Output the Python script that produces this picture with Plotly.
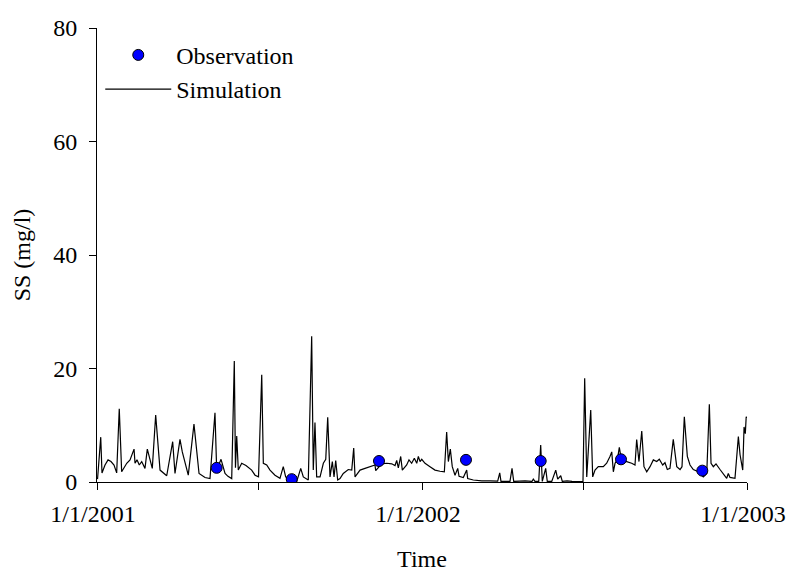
import pandas as pd
import plotly.graph_objects as go

# Day offsets from 1/1/2001 and simulated SS (mg/l)
sim_day = [0.6, 4.2, 5.6, 9.0, 12.4, 15.7, 19.1, 22.1, 25.0, 27.7, 33.4, 37.1, 41.6, 42.7,
           44.9, 47.5, 50.2, 53.9, 56.5, 59.5, 62.1, 65.9, 70.8, 78.3, 85.0, 87.6, 93.2,
           95.8, 98.0, 102.5, 108.9, 114.6, 121.3, 126.9, 132.5, 134.4, 139.3, 143.8, 147.1,
           151.3, 154.2, 155.5, 156.9, 158.7, 162.5, 167.3, 173.7, 177.5, 181.4, 185.0,
           186.8, 190.6, 194.3, 199.9, 205.5, 209.2, 211.9, 218.7, 224.3, 228.8, 231.7,
           237.3, 241.1, 242.9, 244.8, 246.7, 250.5, 254.2, 256.9, 259.1, 261.7, 264.3,
           266.2, 268.1, 270.3, 272.9, 276.6, 282.2, 286.1, 288.3, 289.8, 295.4, 301.0,
           306.6, 312.2, 313.0, 319.7, 325.4, 331.0, 334.7, 336.6, 338.4, 341.1, 342.9,
           347.8, 350.4, 353.4, 356.4, 359.1, 360.9, 362.8, 364.7, 368.4, 374.0, 379.6,
           385.2, 390.1, 392.7, 394.6, 396.8, 399.0, 402.1, 405.1, 406.6, 411.4, 415.2,
           416.3, 422.6, 432.1, 441.4, 450.0, 452.3, 453.7, 463.8, 466.1, 468.0, 480.7,
           488.5, 490.0, 491.9, 496.1, 498.3, 500.1, 503.9, 505.7, 510.7, 515.2, 517.4,
           520.8, 522.6, 527.9, 533.5, 540.2, 545.8, 547.7, 550.0, 554.5, 556.7, 559.3,
           563.0, 568.6, 572.4, 576.1, 578.1, 579.9, 581.8, 584.4, 586.6, 589.3, 594.9,
           600.5, 604.2, 606.1, 608.7, 611.8, 614.3, 617.4, 621.1, 624.8, 628.6, 631.5,
           635.3, 637.9, 640.5, 643.5, 647.2, 651.1, 654.8, 657.0, 659.6, 663.0, 666.0,
           669.7, 675.3, 680.9, 684.8, 687.7, 689.6, 692.2, 695.2, 699.7, 703.4, 707.2,
           709.0, 710.9, 716.5, 720.3, 722.2, 725.2, 726.7, 728.1, 729.1, 730.0]
sim_ss = [0.5, 7.9, 1.6, 3.0, 3.9, 3.6, 3.0, 1.6, 12.9, 1.8, 3.3, 3.9, 5.8, 3.3,
          3.9, 3.0, 3.6, 2.4, 5.8, 4.2, 2.4, 11.8, 2.1, 1.1, 7.1, 1.5, 7.5,
          5.3, 3.9, 1.2, 10.2, 1.5, 0.8, 0.6, 12.2, 2.1, 4.0, 1.5, 1.0,
          0.6, 21.3, 2.5, 8.1, 2.1, 3.3, 2.9, 2.1, 1.2, 0.9, 18.9,
          3.3, 3.0, 2.1, 1.2, 0.65, 2.7, 0.9, 0.05, 0.1, 2.4, 0.9,
          0.35, 25.7, 2.1, 10.5, 0.9, 0.9, 3.3, 4.0, 11.4, 0.9, 3.6,
          0.9, 3.8, 0.35, 0.6, 1.5, 2.2, 2.1, 6.0, 0.9, 2.1, 2.4,
          2.7, 3.0, 2.0, 3.2, 3.3, 3.2, 2.9, 3.8, 2.5, 4.5, 2.1,
          3.0, 3.9, 3.3, 4.2, 3.3, 4.5, 3.6, 4.0, 3.3, 2.7, 2.1,
          1.9, 1.8, 8.8, 3.6, 5.8, 2.7, 1.2, 2.4, 1.0, 0.8, 2.1,
          0.6, 0.35, 0.2, 0.2, 0.15, 1.6, 0.1, 0.1, 2.4, 0.1, 0.2,
          0.1, 0.5, 0.1, 0.1, 6.5, 0.1, 2.4, 0.1, 0.1, 2.1, 0.5,
          1.1, 0.1, 0.2, 0.1, 0.1, 0.05, 18.3, 0.9, 12.7, 0.9, 2.1,
          2.7, 2.7, 3.3, 4.5, 5.3, 1.8, 3.3, 3.9, 6.1, 3.6, 3.6,
          3.3, 3.0, 7.5, 3.6, 9.0, 2.7, 1.8, 2.7, 3.9, 3.6, 4.0,
          3.0, 3.4, 2.2, 2.4, 7.5, 2.7, 2.2, 2.7, 11.5, 4.5, 3.0,
          2.2, 1.8, 0.9, 1.5, 13.7, 3.3, 2.7, 3.2, 2.2, 1.5, 0.65,
          1.5, 0.8, 0.65, 8.0, 4.8, 2.1, 9.7, 8.5, 11.5, 11.3]

# Observations
obs_day = [134.4, 218.7, 316.7, 414.4, 498.3, 588.5, 679.8]
obs_ss = [2.5, 0.5, 3.7, 3.9, 3.7, 4.0, 2.0]

# Axis ticks
x_tick_dates = ["2001-01-01", "2001-07-01", "2002-01-01", "2002-07-01", "2003-01-01"]
x_tick_text = ["1/1/2001", "", "1/1/2002", "", "1/1/2003"]
y_ticks = [0, 20, 40, 60, 80]

origin = pd.Timestamp("2001-01-01")
sim_dates = origin + pd.to_timedelta(sim_day, unit="D")
obs_dates = origin + pd.to_timedelta(obs_day, unit="D")

FONT = "Liberation Serif, Times New Roman, serif"

fig = go.Figure()
fig.add_trace(go.Scatter(
    x=sim_dates, y=sim_ss, mode="lines", name="Simulation",
    line=dict(color="black", width=1.2),
))
fig.add_trace(go.Scatter(
    x=obs_dates, y=obs_ss, mode="markers", name="Observation",
    marker=dict(color="#0000FF", size=11, line=dict(color="black", width=1)),
))

fig.update_layout(
    width=788, height=572,
    margin=dict(l=97, r=41, t=28, b=90, autoexpand=False),
    paper_bgcolor="white", plot_bgcolor="white",
    font=dict(family=FONT, size=24, color="black"),
    showlegend=True,
    legend=dict(
        traceorder="reversed",
        x=0.005, y=0.9894, xanchor="left", yanchor="top",
        bgcolor="rgba(0,0,0,0)", font=dict(size=24, family=FONT),
        itemwidth=66,
    ),
    xaxis=dict(
        range=["2001-01-01", "2003-01-01"],
        tickmode="array", tickvals=x_tick_dates, ticktext=x_tick_text,
        showline=True, linecolor="black", linewidth=1,
        ticks="outside", ticklen=7, tickcolor="black",
        showgrid=False, zeroline=False, automargin=False,
        tickfont=dict(size=24, family=FONT),
        ticklabelstandoff=3, ticklabelshift=-4, ticklabeloverflow="allow",
        title=dict(text="Time", font=dict(size=24, family=FONT), standoff=26),
    ),
    yaxis=dict(
        range=[0, 80],
        tickmode="array", tickvals=y_ticks,
        showline=True, linecolor="black", linewidth=1,
        ticks="outside", ticklen=7, tickcolor="black",
        showgrid=False, zeroline=False, automargin=False,
        tickfont=dict(size=24, family=FONT),
        ticklabelstandoff=7,
        title=dict(text="SS (mg/l)", font=dict(size=24, family=FONT), standoff=15),
    ),
)

fig.write_html("out.html")
